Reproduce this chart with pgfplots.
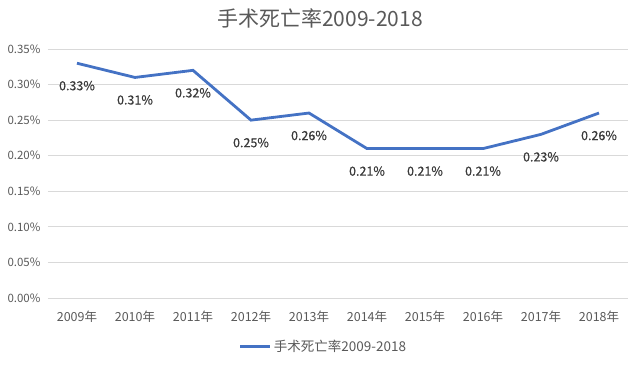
\documentclass[border=0pt]{standalone}
\usepackage{pgfplots}
\pgfplotsset{compat=1.18}
\usepackage{fontspec}
\setmainfont{Noto Sans CJK SC}
\newfontfamily\lblfont[FakeBold=0.6]{Noto Sans CJK SC}
\definecolor{series}{HTML}{4472C4}
\definecolor{txt}{HTML}{595959}
\definecolor{lbl}{HTML}{3A3A3A}
\definecolor{gridc}{HTML}{D9D9D9}
\begin{document}
\begin{tikzpicture}
\path[use as bounding box] (-48pt,-68pt) rectangle (582pt,298pt);
\begin{axis}[
  scale only axis,
  width=580pt, height=249pt,
  xmin=-0.5, xmax=9.5, ymin=0, ymax=0.35,
  axis line style={draw=none},
  ytick={0,0.05,0.1,0.15,0.2,0.25,0.3,0.35},
  yticklabels={0.00\%,0.05\%,0.10\%,0.15\%,0.20\%,0.25\%,0.30\%,0.35\%},
  xtick={0,...,9},
  xticklabels={2009年,2010年,2011年,2012年,2013年,2014年,2015年,2016年,2017年,2018年},
  xmajorgrids=false, ymajorgrids=true,
  major grid style={draw=gridc, line width=0.9pt},
  major tick length=0pt,
  tick label style={text=txt},
  yticklabel style={font=\fontsize{11.5}{13}\selectfont, xshift=-4pt},
  xticklabel style={font=\fontsize{12.5}{14}\selectfont, yshift=-9pt},
  legend style={at={(0.475,-0.196)}, anchor=center, draw=none, fill=none,
    font=\fontsize{13.5}{15}\selectfont, text=txt, legend cell align=left},
  legend image code/.code={\draw[#1, line width=3pt] (0pt,0pt) -- (30pt,0pt);},
]
\addplot[series, line width=2.8pt, mark=none,
  nodes near coords, point meta=explicit symbolic,
  every node near coord/.append style={anchor=north, yshift=-13pt,
     font=\lblfont\fontsize{12.5}{14}\selectfont, text=lbl}]
 table[meta=l] {
x y l
0 0.33 0.33\%
1 0.31 0.31\%
2 0.32 0.32\%
3 0.25 0.25\%
4 0.26 0.26\%
5 0.21 0.21\%
6 0.21 0.21\%
7 0.21 0.21\%
8 0.23 0.23\%
9 0.26 0.26\%
};
\addlegendentry{手术死亡率2009-2018}
\end{axis}
\node[font=\fontsize{21}{24}\selectfont, text=txt] at (272pt,280pt) {手术死亡率2009-2018};
\end{tikzpicture}
\end{document}
